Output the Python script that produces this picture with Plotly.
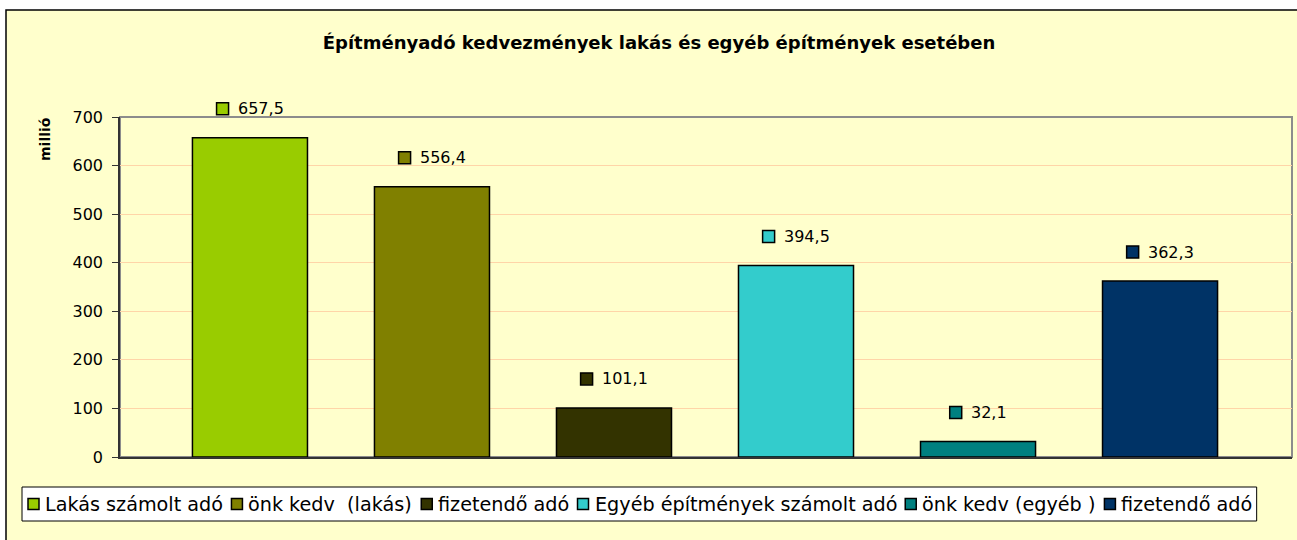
import plotly.graph_objects as go

# ---- data ----
series_names = ["Lakás számolt adó", "önk kedv  (lakás)", "fizetendő adó",
                "Egyéb építmények számolt adó", "önk kedv (egyéb )", "fizetendő adó"]
values = [657.5, 556.4, 101.1, 394.5, 32.1, 362.3]
value_labels = ["657,5", "556,4", "101,1", "394,5", "32,1", "362,3"]
colors = ["#99CC00", "#808000", "#333300", "#33CCCC", "#008080", "#003366"]
y_ticks = [0, 100, 200, 300, 400, 500, 600, 700]

FONT = "DejaVu Sans"
W, H = 1297, 540
L, R, T, B = 120, 5, 117, 83
PW, PH = W - L - R, H - T - B
X_RANGE = [-0.714, 5.725]
Y_RANGE = [0, 700]

# approximate DejaVu Sans advance widths (em)
CW = {" ": .318, "a": .613, "b": .635, "c": .55, "d": .635, "e": .615, "f": .352, "g": .635,
      "h": .634, "i": .278, "j": .278, "k": .579, "l": .278, "m": .974, "n": .634, "o": .612,
      "p": .635, "r": .411, "s": .521, "t": .392, "u": .634, "v": .592, "y": .592, "z": .525,
      "L": .557, "E": .632, "(": .39, ")": .39, "á": .613, "é": .615, "í": .278, "ö": .612,
      "ő": .612, "ó": .612, ",": .318}
for d in "0123456789":
    CW[d] = .636

def text_w(s, size):
    return sum(CW.get(ch, .6) for ch in s) * size

def px2x(px):
    return (px - L) / PW

def py2y(py):
    return (H - B - py) / PH

fig = go.Figure()
for i, (name, v, c) in enumerate(zip(series_names, values, colors)):
    fig.add_trace(go.Bar(
        x=[i], y=[v], name=name, width=0.632, showlegend=False,
        marker=dict(color=c, line=dict(color="black", width=1.5)),
        hoverinfo="skip",
    ))

shapes = []
annotations = []
# outer chart border / background
shapes.append(dict(type="rect", xref="paper", yref="paper",
                   x0=px2x(6), x1=px2x(1310), y0=py2y(10), y1=py2y(560),
                   fillcolor="#FFFFCC", line=dict(color="black", width=1.5), layer="below"))
# plot area border (top/right grey)
shapes.append(dict(type="rect", xref="paper", yref="paper", x0=0, x1=1, y0=0, y1=1,
                   line=dict(color="#8C8C8C", width=2), layer="below"))

# data labels: coloured square + value, centred above each bar
LBL_SIZE = 16
for i, (v, lab, c) in enumerate(zip(values, value_labels, colors)):
    tw = text_w(lab, LBL_SIZE)
    total = 13 + 8 + tw
    left = -total / 2
    xa = (i - X_RANGE[0]) / (X_RANGE[1] - X_RANGE[0])
    ya = (v - Y_RANGE[0]) / (Y_RANGE[1] - Y_RANGE[0])
    shapes.append(dict(type="rect", xref="paper", yref="paper", xsizemode="pixel", ysizemode="pixel",
                       xanchor=xa, yanchor=ya, x0=left, x1=left + 12, y0=23, y1=35,
                       fillcolor=c, line=dict(color="black", width=1.5)))
    annotations.append(dict(x=i, y=v, xref="x", yref="y", text=lab, showarrow=False,
                            xanchor="left", yanchor="middle", xshift=left + 19, yshift=29,
                            font=dict(family=FONT, size=LBL_SIZE, color="black")))

# y-axis title near the top of the axis
annotations.append(dict(text="<b>millió</b>", xref="paper", yref="paper",
                        x=px2x(45), y=py2y(139), textangle=-90, showarrow=False,
                        xanchor="center", yanchor="middle",
                        font=dict(family=FONT, size=14, color="black")))

# legend (drawn as a boxed row below the plot)
LEG_SIZE = 19.2
LEG_TOP, LEG_BOT = 487, 521
LEG_MID = (LEG_TOP + LEG_BOT) / 2
box_left = 22
x = box_left + 6
items = []
for name, c in zip(series_names, colors):
    items.append((x, name, c))
    x += 11 + 4 + text_w(name, LEG_SIZE) + 10
box_right = x - 10 + 6
shapes.append(dict(type="rect", xref="paper", yref="paper",
                   x0=px2x(box_left), x1=px2x(box_right), y0=py2y(LEG_BOT), y1=py2y(LEG_TOP),
                   fillcolor="white", line=dict(color="black", width=1), layer="below"))
for (sx, name, c) in items:
    shapes.append(dict(type="rect", xref="paper", yref="paper",
                       x0=px2x(sx), x1=px2x(sx + 11), y0=py2y(LEG_MID + 5.5), y1=py2y(LEG_MID - 5.5),
                       fillcolor=c, line=dict(color="black", width=1.5)))
    annotations.append(dict(text=name, xref="paper", yref="paper", x=px2x(sx + 15), y=py2y(LEG_MID),
                            xanchor="left", yanchor="middle", showarrow=False,
                            font=dict(family=FONT, size=LEG_SIZE, color="black")))

fig.update_layout(
    width=W, height=H,
    margin=dict(l=L, r=R, t=T, b=B, pad=0),
    paper_bgcolor="white",
    plot_bgcolor="#FFFFCC",
    barmode="overlay",
    showlegend=False,
    title=dict(text="<b>Építményadó kedvezmények lakás és egyéb építmények esetében</b>",
               x=659 / W, xref="container", xanchor="center",
               y=1 - 43 / H, yref="container", yanchor="middle",
               font=dict(family=FONT, size=18, color="black")),
    xaxis=dict(range=X_RANGE, showticklabels=False, showgrid=False, zeroline=False,
               showline=True, linecolor="#333333", linewidth=1.5, ticks=""),
    yaxis=dict(range=Y_RANGE, tickvals=y_ticks, ticktext=[str(t) for t in y_ticks],
               showgrid=True, gridcolor="#FFD5A8", gridwidth=1, zeroline=False,
               showline=True, linecolor="#333333", linewidth=1.5,
               ticks="outside", ticklen=6, tickcolor="#333333", tickwidth=1,
               ticklabelstandoff=6,
               tickfont=dict(family=FONT, size=16, color="black")),
    shapes=shapes,
    annotations=annotations,
)

fig.write_html("out.html", config={"displayModeBar": False},
               post_script="document.body.style.margin='0';")
